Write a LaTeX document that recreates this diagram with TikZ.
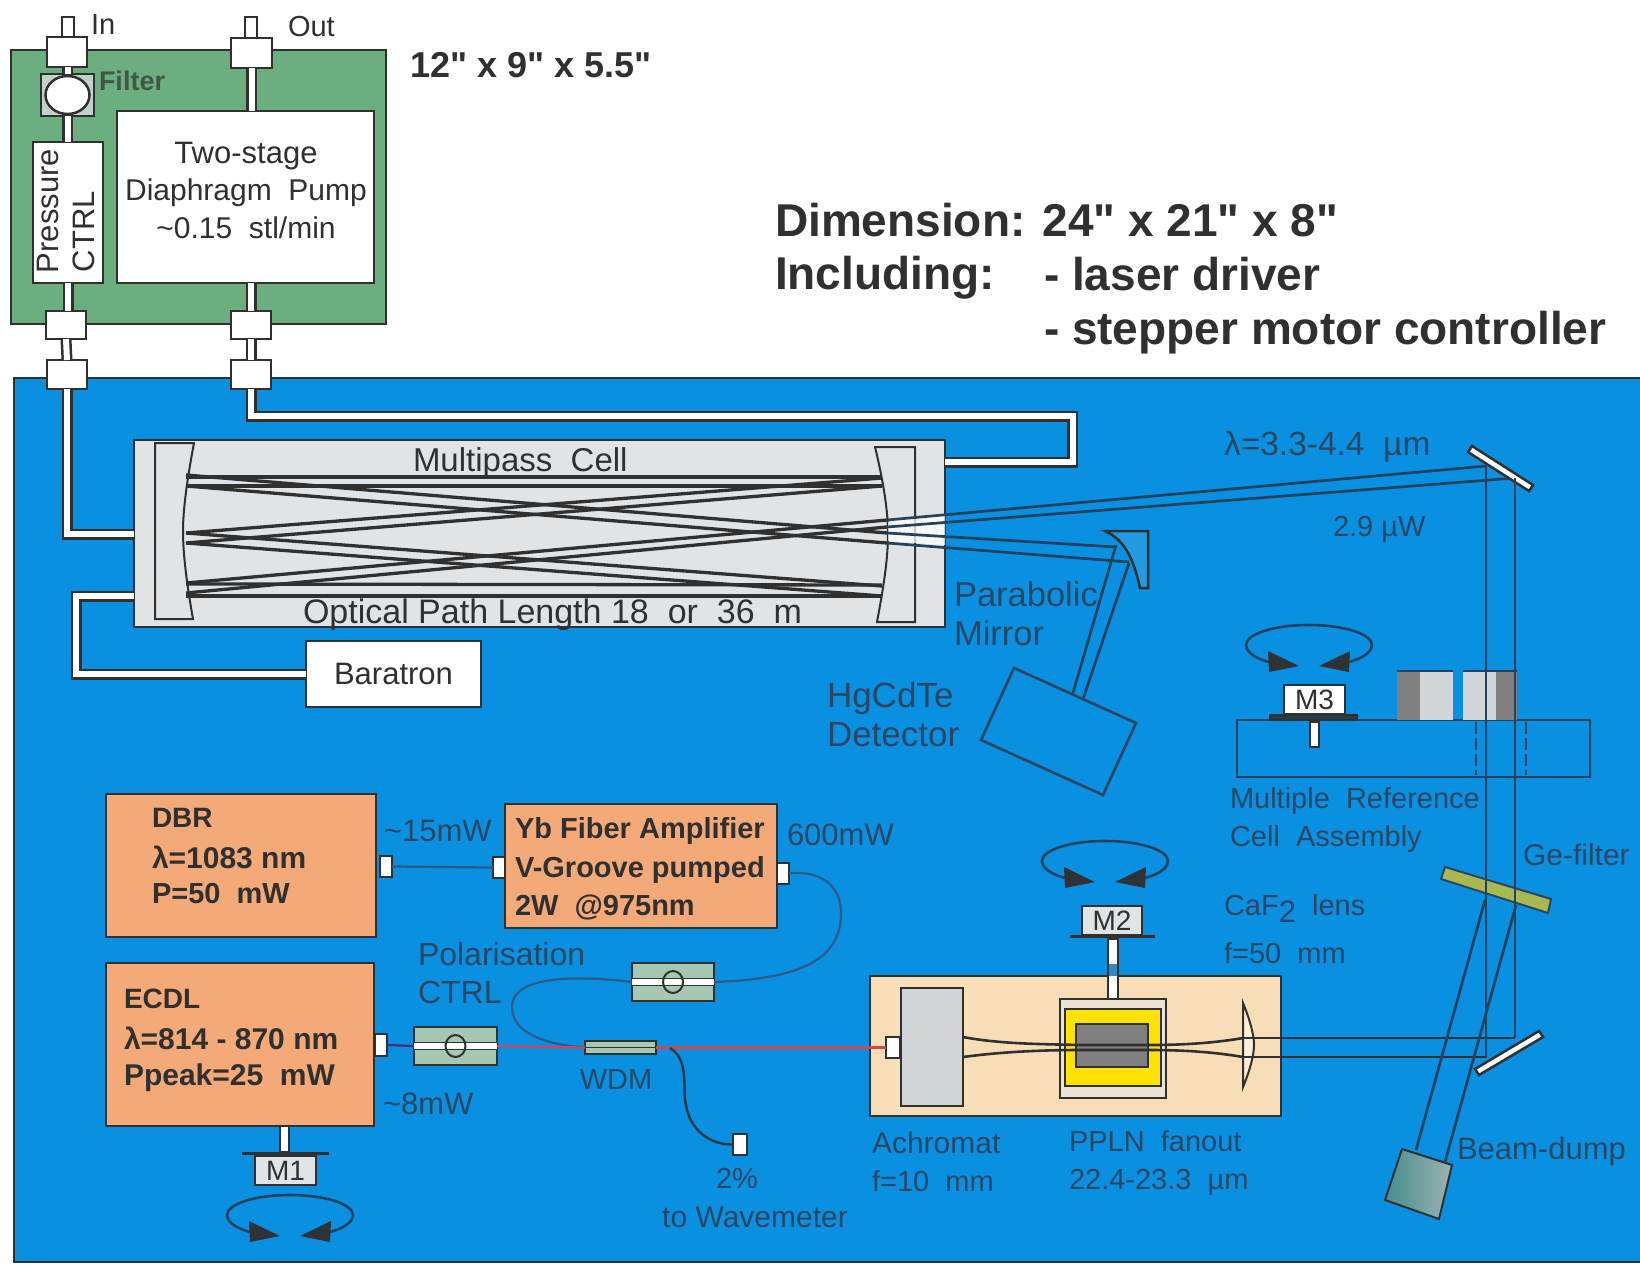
\documentclass[tikz,border=0pt]{standalone}
\usepackage{fontspec}
\setmainfont{Liberation Sans}[Ligatures=TeXOff]
\usetikzlibrary{shapes.geometric}
\definecolor{bgblue}{HTML}{0A90E0}
\definecolor{bggreen}{HTML}{6CAF7E}
\definecolor{dk}{HTML}{303030}
\definecolor{ink}{HTML}{2B4662}
\definecolor{beam}{HTML}{24425E}
\definecolor{cellgray}{HTML}{E1E4E7}
\definecolor{orangebox}{HTML}{F4AA78}
\definecolor{cream}{HTML}{F8DEB6}
\definecolor{sage}{HTML}{A6C8B2}
\definecolor{fiber}{HTML}{2F5A86}
\definecolor{redfiber}{HTML}{D8444E}
\definecolor{gefilter}{HTML}{A9B851}
\newcommand{\fsz}[1]{\fontsize{#1}{#1}\selectfont}
\newcommand{\bxn}[6]{%
  \pgfmathsetmacro\bxw{#5-#3}\pgfmathsetmacro\bxh{#6-#4}%
  \node[#1,minimum width=\bxw pt,minimum height=\bxh pt] (#2) at ({(#3+#5)/2},{(#4+#6)/2}) {};}
\newcommand{\rotarrow}[3]{%
  \begin{scope}[shift={(#2,#3)}]
    \coordinate (#1) at (0,0);
    \draw[rot] (-40,17) .. controls (-58,12) and (-63,5) .. (-63,0)
      .. controls (-63,-11) and (-35,-20) .. (0,-20)
      .. controls (35,-20) and (63,-11) .. (63,0)
      .. controls (63,5) and (58,12) .. (40,17);
    \fill[dk!85!ink] (-41,6) -- (-40,27) -- (-10,21) -- cycle;
    \fill[dk!85!ink] (10,21) -- (40,27) -- (41,6) -- cycle;
  \end{scope}}
\newcommand{\polc}[5]{%
  \bxn{box,fill=sage}{#1}{#2}{#3}{#4}{#5}
  \draw[white,line width=6pt] (#1.west) -- (#1.east);
  \draw[dk,line width=1.6pt] ([yshift=3.5pt]#1.west) -- ([yshift=3.5pt]#1.east);
  \draw[dk,line width=1.6pt] ([yshift=-3.5pt]#1.west) -- ([yshift=-3.5pt]#1.east);
  \node[ellipse,draw=dk,line width=2pt,inner sep=0,minimum width=20pt,minimum height=22pt] (#1o) at (#1) {};}
\tikzset{
  x=1pt,y=-1pt,
  box/.style={draw=dk,line width=2.5pt,inner sep=0,outer sep=0},
  wbox/.style={box,fill=white},
  conn/.style={wbox},
  obox/.style={box,fill=orangebox},
  tube/.style={draw=dk,line width=2.5pt,double=white,double distance=6pt},
  pass/.style={draw=dk,line width=3.3pt},
  thinpass/.style={draw=dk,line width=2.6pt},
  ray/.style={draw=beam,line width=2.7pt},
  rot/.style={draw=beam,line width=2.6pt},
  fib/.style={draw=fiber,line width=2.2pt},
  rfib/.style={draw=redfiber,line width=2.2pt},
  lbl/.style={inner sep=0,outer sep=0,text=ink,font=\fsz{31}},
  dlbl/.style={inner sep=0,outer sep=0,text=dk,font=\fsz{31}},
  bold/.style={inner sep=0,outer sep=0,text=dk,font=\fsz{29}\bfseries},
  head/.style={inner sep=0,outer sep=0,text=dk,font=\fsz{46}\bfseries},
}
\begin{document}
\begin{tikzpicture}
\useasboundingbox (0,0) rectangle (1640,1264);
\fill[white] (0,0) rectangle (1640,1264);
% housings
\bxn{box,fill=bggreen,line width=2.5pt}{pumpbox}{11}{50}{386}{324}
\bxn{box,fill=bgblue}{main}{14}{378}{1645}{1262}
% connectors
\bxn{wbox}{stubin}{62}{17}{74}{40}
\bxn{wbox}{stubout}{245}{17}{257}{40}
\bxn{conn}{cin}{47}{37}{87}{67}
\bxn{conn}{cout}{231}{38}{272}{68}
\bxn{box,fill=cellgray!70!bggreen}{filterbox}{41}{74}{94}{116}
\node[ellipse,draw=dk,line width=2.5pt,fill=white,inner sep=0,minimum width=44pt,minimum height=38pt] (filter) at (filterbox) {};
\bxn{wbox}{pctrl}{33}{142}{103}{283}
\bxn{wbox}{pump}{117}{111}{374}{283}
\bxn{conn}{ca}{46}{311}{86}{339}
\bxn{conn}{cb}{231}{311}{271}{339}
\bxn{conn}{cc}{47}{360}{87}{389}
\bxn{conn}{cd}{231}{360}{271}{389}
% cell
\bxn{box,fill=cellgray}{cell}{134}{440}{945}{627}
\bxn{wbox}{baratron}{306}{641}{481}{707}
% tubes
\coordinate (lA) at (134,534);
\coordinate (rtA) at (1072.5,416);
\coordinate (rtB) at (1072.5,462);
\coordinate (bA) at (134,596);
\coordinate (bC) at (76,596);
\draw[tube] (cin.south -| filterbox.north) -- (filterbox.north);
\draw[tube] (filterbox.south) -- (filterbox.south |- pctrl.north);
\draw[tube] (pctrl.south) -- (pctrl.south |- ca.north);
\draw[tube] (ca.south) -- (cc.north);
\draw[tube] (cout.south) -- (cout.south |- pump.north);
\draw[tube] (cb.north |- pump.south) -- (cb.north);
\draw[tube] (cb.south) -- (cd.north);
\draw[tube] (cc.south) |- (lA);
\draw[tube] (cd.south) |- (rtA) -- (rtB) -- (cell.east |- rtB);
\draw[tube] (baratron.west) -| (bC) -- (bA);
% cell mirrors
\draw[draw=dk,line width=2pt,fill=cellgray] (155,443) -- (194,443) .. controls (187,480) and (183,510) .. (183,531) .. controls (183,555) and (187,585) .. (193,619) -- (155,619) -- cycle;
\draw[draw=dk,line width=2pt,fill=cellgray] (915,447) -- (875,447) .. controls (883,480) and (888,510) .. (888,534) .. controls (888,560) and (883,590) .. (877,622) -- (915,622) -- cycle;
\fill[white,opacity=.75] (888,522) -- (945,515) -- (945,545) -- (888,541) -- cycle;
% multipass rays
\draw[pass] (186,477) -- (882,477);
\draw[pass] (186,486) -- (882,486);
\draw[pass] (186,486) -- (887,543);
\draw[pass] (186,475) -- (887,533);
\draw[pass] (186,533) -- (882,478);
\draw[pass] (186,543) -- (882,486);
\draw[pass] (186,533) -- (882,586);
\draw[pass] (186,543) -- (882,596);
\draw[pass] (186,583) -- (887,520);
\draw[pass] (186,593) -- (887,527);
\draw[pass] (186,584) -- (882,585);
\draw[pass] (186,596) -- (882,596);
% outgoing rays
\coordinate (um1) at (1486,466);
\coordinate (um2) at (1515,478);
\draw[ray] (887,520) -- (um1);
\draw[ray] (887,527) -- (um2);
\draw[ray] (887,533) -- (1116,547);
\draw[ray] (887,543) -- (1129,562);
% parabolic mirror
\draw[draw=dk,line width=2.5pt,fill=bgblue!90!white] (1105,531) -- (1148,531) -- (1148,588) -- (1140,588) .. controls (1134,560) and (1125,540) .. cycle;
\draw[ray] (1116,545) -- (1073,693);
\draw[ray] (1129,563) -- (1083,699);
\draw[ink,line width=2.7pt] (1014,668) -- (1136,723) -- (1103,795) -- (981,740) -- cycle;
% upper fold mirror
\draw[draw=dk,line width=2.5pt,fill=white] (1468,452) -- (1472,446) -- (1533,485) -- (1529,491) -- cycle;
% reference assembly
\bxn{box,draw=beam,fill=bgblue}{refcell}{1237}{720}{1590}{777}
\bxn{box,draw=none,fill=gray}{ca1}{1397}{671}{1420}{720}
\bxn{box,draw=none,fill=cellgray!85!gray}{ca2}{1420}{671}{1453}{720}
\bxn{box,draw=none,fill=cellgray!85!gray}{ca3}{1463}{671}{1496}{720}
\bxn{box,draw=none,fill=gray}{ca4}{1496}{671}{1517}{720}
\draw[beam,line width=2.5pt] (1397,671) -- (1453,671);
\draw[beam,line width=2.5pt] (1463,671) -- (1517,671);
\bxn{box,draw=dk,fill=dk!90!bgblue}{m3plate}{1270}{715}{1357}{720}
\bxn{wbox,fill=white}{m3}{1284}{685}{1345}{714}
\bxn{wbox,line width=2pt}{m3pin}{1310}{722}{1319}{747}
\draw[beam,line width=2pt,dash pattern=on 12pt off 4pt] (1476,722) -- (1476,775);
\draw[beam,line width=2pt,dash pattern=on 12pt off 4pt] (1526,722) -- (1526,775);
\rotarrow{ra3}{1309}{645}
% Ge filter
\draw[draw=ink,line width=2pt,fill=gefilter] (1445,867) -- (1551,899) -- (1548,913) -- (1441,879) -- cycle;
% lower mirror
\draw[draw=dk,line width=2.5pt,fill=white] (1475,1069) -- (1479,1075) -- (1543,1037) -- (1539,1031) -- cycle;
% laser boxes
\bxn{obox}{dbr}{106}{794}{376}{937}
\bxn{obox}{yb}{505}{804}{777}{928}
\bxn{obox}{ecdl}{106}{963}{374}{1126}
\bxn{conn,line width=2pt}{c1}{380}{856}{392}{877}
\bxn{conn,line width=2pt}{c2}{493}{857}{505}{878}
\bxn{conn,line width=2pt}{c3}{777}{863}{789}{884}
\bxn{conn,line width=2pt}{c4}{375}{1034}{387}{1056}
\polc{pol1}{632}{963}{714}{1001}
\polc{pol2}{414}{1027}{497}{1065}
\bxn{box,fill=sage,line width=2pt}{wdm}{585}{1041}{656}{1054}
\draw[dk,line width=1.5pt] (wdm.west) -- (wdm.east);
\bxn{wbox,line width=2pt}{wav}{733}{1134}{747}{1155}
\coordinate (wdmt) at (670,1048);
% nonlinear stage
\bxn{box,fill=cream}{stage}{870}{976}{1281}{1116}
\bxn{box,fill=cellgray!85!gray}{achro}{901}{988}{963}{1106}
\bxn{conn,line width=2pt}{c5}{886}{1037}{900}{1058}
\bxn{box,fill=cream!40!cellgray}{oven}{1060}{999}{1166}{1098}
\bxn{box,fill=yellow!85!orange}{ovenin}{1065}{1009}{1161}{1086}
\bxn{box,fill=gray}{ppln}{1076}{1024}{1148}{1067}
\draw[draw=dk,line width=2pt,fill=cream!50!white] (1243,1003) .. controls (1250,1020) and (1254,1035) .. (1254,1045) .. controls (1254,1055) and (1250,1070) .. (1243,1087) -- cycle;
\coordinate (au) at (963,1037);
\coordinate (al) at (963,1057);
\coordinate (lu) at (1243,1038);
\coordinate (ll) at (1243,1057);
\coordinate (mu) at (1515,1038);
\coordinate (ml) at (1487,1057);
\draw[thinpass] (au) .. controls (1000,1044) and (1040,1044) .. (1080,1045) -- (1150,1045) .. controls (1190,1045) and (1220,1042) .. (lu);
\draw[thinpass] (al) .. controls (1000,1052) and (1040,1050) .. (1080,1050) -- (1150,1050) .. controls (1190,1050) and (1220,1053) .. (ll);
\draw[thinpass] (lu) -- (mu);
\draw[thinpass] (ll) -- (ml);
% M2 mount
\bxn{box,draw=none,fill=dk}{m2plate}{1070}{935}{1155}{938}
\bxn{box,fill=cellgray,line width=2pt}{m2}{1082}{906}{1142}{935}
\bxn{box,fill=white,line width=2pt}{m2rod}{1108}{939}{1118}{999}
\bxn{box,draw=none,fill=bgblue!70!gray}{m2gap}{1109}{964}{1117}{976}
\rotarrow{ra2}{1105}{861}
% M1 mount
\bxn{box,fill=white,line width=2pt}{m1rod}{280}{1126}{289}{1152}
\bxn{box,draw=none,fill=dk}{m1plate}{242}{1152}{329}{1155}
\bxn{box,fill=cellgray,line width=2pt}{m1}{255}{1156}{316}{1185}
\rotarrow{ra1}{290}{1215}
% beam dump
\shade[left color=cellgray!20!teal!70!gray,right color=gray!70!teal!60!white,draw=dk,line width=2pt] (1402,1149) -- (1452,1165) -- (1439,1219) -- (1385,1200) -- cycle;
% long rays
\draw[ray] (um1) -- (1486,1057);
\draw[ray] (um2) -- (1515,1038);
\draw[ray] (1485,900) -- (1416,1150);
\draw[ray] (1516,905) -- (1445,1162);
% fibres
\draw[fib] (c1.east) -- (c2.west);
\draw[fib] (c3.east) .. controls (820,870) and (841,885) .. (841,913) .. controls (841,960) and (800,979) .. (pol1.east);
\draw[fib] (pol1.west) .. controls (600,978) and (512,970) .. (512,1007) .. controls (512,1035) and (550,1045) .. (wdm.west);
\draw[fib,draw=ink!60!violet] (c4.east) -- (pol2.west);
\draw[rfib] (pol2.east) -- (wdm.west);
\draw[rfib] (wdm.east) -- (c5.west);
\draw[draw=dk!60!beam,line width=2.4pt] (wdmt) .. controls (690,1060) and (682,1090) .. (686,1105) .. controls (690,1130) and (710,1145) .. (wav.west);
% texts
\node[dlbl,anchor=west,font=\fsz{29}] (tin) at (91,25) {In};
\node[dlbl,anchor=west,font=\fsz{29}] (tout) at (288,27) {Out};
\node[dlbl,anchor=west,text=dk!70!bggreen,font=\fsz{27}\bfseries] (tfilter) at (99,81) {Filter};
\node[head,font=\fsz{36}\bfseries,anchor=west] (t12) at (410,65) {12" x 9" x 5.5"};
\node[head,anchor=west] (tdim) at (775,220) {Dimension: 24" x 21" x 8"};
\node[head,anchor=west] (tinc) at (775,278) {Including:};
\node[head,anchor=west] (tlas) at (1044,274) {- laser driver};
\node[head,anchor=west] (tstep) at (1044,333) {- stepper motor controller};
\node[dlbl,anchor=center] (t2s) at (246,156) {Two-stage};
\node[dlbl,anchor=center,font=\fsz{30}] (tdp) at (246,193) {Diaphragm\ \ Pump};
\node[dlbl,anchor=center,font=\fsz{30}] (t15) at (246,228) {\textasciitilde 0.15\ \ stl/min};
\node[dlbl,anchor=west,rotate=90] (tpr) at (48,273) {Pressure};
\node[dlbl,anchor=west,rotate=90] (tct) at (84,272) {CTRL};
\node[dlbl,anchor=west,font=\fsz{33}] (tmp) at (413,463) {Multipass\ \ Cell};
\node[dlbl,anchor=west,font=\fsz{34}] (topl) at (303,615) {Optical Path Length 18\ \ or\ \ 36\ \ m};
\node[dlbl] (tbar) at (baratron) {Baratron};
\node[lbl,anchor=west,font=\fsz{33.5}] (tlam) at (1224,447) {λ=3.3-4.4\ \ µm};
\node[lbl,anchor=west,font=\fsz{29}] (tpw) at (1333,529) {2.9 µW};
\node[lbl,anchor=west,font=\fsz{34.5}] (tpar) at (954,594) {Parabolic};
\node[lbl,anchor=west,font=\fsz{34.5}] (tmir) at (954,633) {Mirror};
\node[lbl,anchor=west,font=\fsz{35}] (thg) at (827,698) {HgCdTe};
\node[lbl,anchor=west,font=\fsz{35}] (tdet) at (827,735) {Detector};
\node[dk,font=\fsz{28},inner sep=0] (tm3) at (m3) {M3};
\node[dk,font=\fsz{28},inner sep=0] (tm2) at (m2) {M2};
\node[dk,font=\fsz{28},inner sep=0] (tm1) at (m1) {M1};
\node[lbl,anchor=west,font=\fsz{29}] (tmr) at (1230,801) {Multiple\ \ Reference};
\node[lbl,anchor=west,font=\fsz{29}] (tca) at (1230,839) {Cell\ \ Assembly};
\node[lbl,anchor=west,font=\fsz{30}] (tge) at (1523,855) {Ge-filter};
\node[lbl,anchor=west,font=\fsz{29}] (tcaf) at (1224,908) {CaF\raisebox{-7pt}{\fsz{31}2}\ \ lens};
\node[lbl,anchor=west,font=\fsz{29}] (tf50) at (1224,953) {f=50\ \ mm};
\node[bold,anchor=west,font=\fsz{28}\bfseries] (tdbr) at (152,818) {DBR};
\node[bold,anchor=west,font=\fsz{30}\bfseries] (tl1) at (152,857) {λ=1083 nm};
\node[bold,anchor=west] (tp50) at (152,894) {P=50\ \ mW};
\node[bold,anchor=west] (tyb) at (515,831) {Yb Fiber Amplifier};
\node[bold,anchor=west] (tvg) at (515,870) {V-Groove pumped};
\node[bold,anchor=west] (t2w) at (515,907) {2W\ \ @975nm};
\node[bold,anchor=west,font=\fsz{28}\bfseries] (tec) at (124,999) {ECDL};
\node[bold,anchor=west,font=\fsz{30}\bfseries] (tl2) at (124,1038) {λ=814 - 870 nm};
\node[bold,anchor=west,font=\fsz{30}\bfseries] (tpp) at (124,1078) {Ppeak=25\ \ mW};
\node[lbl,anchor=west] (t15m) at (384,831) {\textasciitilde 15mW};
\node[lbl,anchor=west] (t600) at (787,835) {600mW};
\node[lbl,anchor=west,font=\fsz{32}] (tpol) at (418,954) {Polarisation};
\node[lbl,anchor=west,font=\fsz{32}] (tctr) at (418,992) {CTRL};
\node[lbl,font=\fsz{29}] (twd) at (616,1080) {WDM};
\node[lbl,anchor=west] (t8m) at (383,1104) {\textasciitilde 8mW};
\node[lbl,font=\fsz{29}] (t2p) at (737,1178) {2\%};
\node[lbl,font=\fsz{30}] (twv) at (755,1217) {to Wavemeter};
\node[lbl,anchor=west,font=\fsz{30}] (tach) at (872,1143) {Achromat};
\node[lbl,anchor=west,font=\fsz{29}] (tf10) at (872,1181) {f=10\ \ mm};
\node[lbl,anchor=west,font=\fsz{29}] (tpn) at (1069,1141) {PPLN\ \ fanout};
\node[lbl,anchor=west,font=\fsz{29}] (t224) at (1069,1182) {22.4-23.3\ \ µm};
\node[lbl,anchor=west,font=\fsz{31}] (tbd) at (1457,1151) {Beam-dump};
\end{tikzpicture}
\end{document}
